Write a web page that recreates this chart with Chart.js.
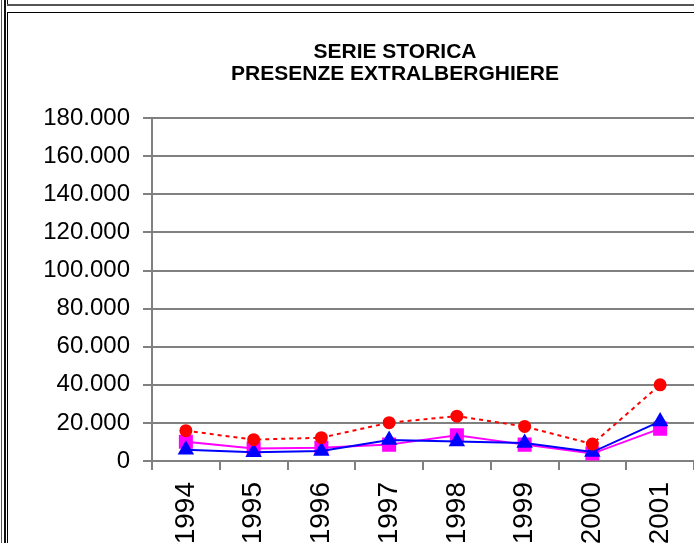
<!DOCTYPE html>
<html>
<head>
<meta charset="utf-8">
<script src="https://cdn.jsdelivr.net/npm/chart.js@4"></script>
<style>
    html, body { margin: 0; padding: 0; background: #fff; }
    body { width: 694px; height: 543px; overflow: hidden; position: relative; }
    #grafico { position: absolute; left: 0; top: 0; }
    .linea { position: absolute; }
</style>
</head>
<body>
<div class="linea" style="left:1px;top:0;width:1px;height:543px;background:#555"></div>
<div class="linea" style="left:4px;top:0;width:2px;height:543px;background:#111"></div>
<div class="linea" style="left:7px;top:0;width:1px;height:6px;background:#111"></div>
<div class="linea" style="left:7px;top:4px;width:700px;height:2px;background:#555"></div>
<div class="linea" style="left:7px;top:12px;width:700px;height:1px;background:#000"></div>
<div class="linea" style="left:7px;top:12px;width:1px;height:540px;background:#000"></div>
<canvas id="grafico" width="790" height="600"></canvas>
<script>
const anni = ['1994', '1995', '1996', '1997', '1998', '1999', '2000', '2001'];
const totale = [15900, 11200, 12250, 20100, 23550, 18150, 8900, 40000];
const italiani = [10150, 6500, 7000, 8600, 13450, 8600, 3900, 17000];
const stranieri = [5900, 4600, 5200, 11000, 10300, 9400, 4700, 20800];
const tickY = [0, 20000, 40000, 60000, 80000, 100000, 120000, 140000, 160000, 180000];

const formatoMigliaia = (n) => String(n).replace(/\B(?=(\d{3})+(?!\d))/g, '.');
const fontBase = "'Liberation Sans', Arial, sans-serif";
const grigio = '#808080';

new Chart(document.getElementById('grafico').getContext('2d'), {
    type: 'line',
    data: {
        labels: anni,
        datasets: [
            { label: 'Totale', data: totale, borderColor: '#ff0000', backgroundColor: '#ff0000', borderWidth: 2, borderDash: [4, 4], pointStyle: 'circle', pointRadius: 5.5, tension: 0 },
            { label: 'Stranieri', data: stranieri, borderColor: '#0000ff', backgroundColor: '#0000ff', borderWidth: 2, pointStyle: 'triangle', pointRadius: 7.5, tension: 0 },
            { label: 'Italiani', data: italiani, borderColor: '#ff00ff', backgroundColor: '#ff00ff', borderWidth: 2, pointStyle: 'rect', pointRadius: 8.5, tension: 0 }
        ]
    },
    options: {
        responsive: false,
        animation: false,
        layout: { padding: 0 },
        plugins: {
            legend: { display: false },
            tooltip: { enabled: false },
            title: {
                display: true,
                text: ['SERIE STORICA', 'PRESENZE EXTRALBERGHIERE'],
                color: '#000',
                font: { family: fontBase, size: 21, weight: 'bold', lineHeight: 1.05 },
                padding: { top: 41, bottom: 33 }
            }
        },
        scales: {
            x: {
                offset: true,
                grid: { display: true, drawOnChartArea: false, drawTicks: true, tickLength: 9, offset: true, color: grigio, lineWidth: 2 },
                border: { display: true, color: grigio, width: 2 },
                ticks: { color: '#000', font: { family: fontBase, size: 28 }, minRotation: 90, maxRotation: 90, autoSkip: false, padding: 12 },
                afterFit: (s) => { s.height = 139; }
            },
            y: {
                min: 0,
                max: 180000,
                afterBuildTicks: (s) => { s.ticks = tickY.map(v => ({ value: v })); },
                grid: { color: grigio, lineWidth: 2, tickLength: 9, drawTicks: true },
                border: { display: true, color: grigio, width: 2 },
                ticks: { color: '#000', font: { family: fontBase, size: 24 }, padding: 13, callback: (v) => formatoMigliaia(v) },
                afterFit: (s) => { s.width = 152; }
            },
            // asse vuoto a destra: la parte tagliata del grafico originale
            destra: {
                position: 'right',
                min: 0,
                max: 180000,
                grid: { drawOnChartArea: false, drawTicks: false },
                border: { display: false },
                ticks: { display: false },
                afterFit: (s) => { s.width = 96; }
            }
        }
    }
});
</script>
</body>
</html>
